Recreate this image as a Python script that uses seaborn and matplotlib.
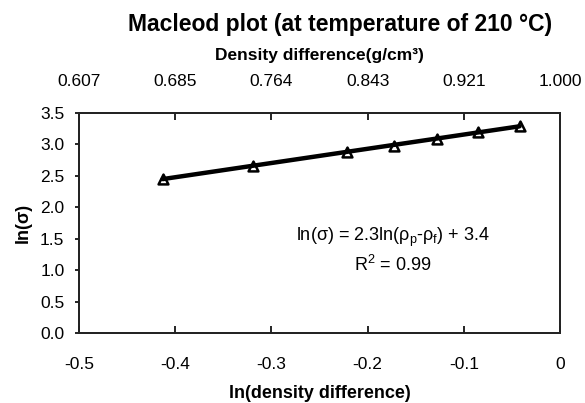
import numpy as np
import pandas as pd
import matplotlib
matplotlib.use("Agg")
import matplotlib.pyplot as plt
import seaborn as sns

ln_density_diff = [-0.413, -0.319, -0.221, -0.173, -0.128, -0.085, -0.042]
ln_sigma = [2.45, 2.66, 2.88, 2.97, 3.08, 3.20, 3.29]
bottom_ticks = [-0.5, -0.4, -0.3, -0.2, -0.1, 0.0]
bottom_labels = ["-0.5", "-0.4", "-0.3", "-0.2", "-0.1", "0"]
top_labels = ["0.607", "0.685", "0.764", "0.843", "0.921", "1.000"]
y_ticks = [0.0, 0.5, 1.0, 1.5, 2.0, 2.5, 3.0, 3.5]

sns.set_theme(style="white")
plt.rcParams['font.family'] = ['Liberation Sans', 'DejaVu Sans']
plt.rcParams.update({"text.color": "black", "axes.labelcolor": "black",
                     "xtick.color": "black", "ytick.color": "black"})

df = pd.DataFrame({"x": ln_density_diff, "y": ln_sigma})

fig = plt.figure(figsize=(5.85, 4.03), dpi=100)
ax = fig.add_axes([79/585, 1-333/403, (560-79)/585, (333-112.7)/403])

slope, intercept = np.polyfit(df["x"], df["y"], 1)
fit_df = pd.DataFrame({"x": df["x"], "y": slope*df["x"] + intercept})

sns.scatterplot(data=df, x="x", y="y", marker="^", s=50, color="white",
                edgecolor="black", linewidth=1.8, ax=ax, zorder=3)
sns.lineplot(data=fit_df, x="x", y="y", color="black", linewidth=3.2, ax=ax, zorder=4)

ax.set_xlim(-0.5, 0.0)
ax.set_ylim(0, 3.5)
ax.set_xticks(bottom_ticks)
ax.set_xticklabels(bottom_labels)
ax.set_yticks(y_ticks)
ax.set_yticklabels([f"{v:.1f}" for v in y_ticks])
ax.tick_params(axis="x", direction="in", length=5, width=1.2, labelsize=12.5, pad=17, bottom=True)
ax.tick_params(axis="y", direction="out", length=3, width=1.2, labelsize=12.5, pad=7.5, left=True)
for sp in ax.spines.values():
    sp.set_color("black")
    sp.set_linewidth(1.3)
ax.set_xlabel("ln(density difference)", fontsize=13, fontweight="bold", labelpad=10)
ax.set_ylabel("ln(σ)", fontsize=13, fontweight="bold", labelpad=6)

ax2 = ax.twiny()
ax2.set_xlim(ax.get_xlim())
ax2.set_xticks(bottom_ticks)
ax2.set_xticklabels(top_labels)
ax2.tick_params(axis="x", direction="in", length=5, width=1.2, labelsize=12.5, pad=17, top=True)
ax2.set_xlabel("Density difference(g/cm³)", fontsize=12.5, fontweight="bold", labelpad=10)

ax.text(0.653, 0.433, r"ln(σ) = 2.3ln(ρ$_\mathregular{p}$-ρ$_\mathregular{f}$) + 3.4",
        transform=ax.transAxes, ha="center", va="center", fontsize=13)
ax.text(0.653, 0.309, r"R$^\mathregular{2}$ = 0.99", transform=ax.transAxes,
        ha="center", va="center", fontsize=13)

fig.text(340/585, 1-25/403, "Macleod plot (at temperature of 210 °C)",
         ha="center", va="center", fontsize=16.5, fontweight="bold")

fig.savefig("out.png", dpi=100)
